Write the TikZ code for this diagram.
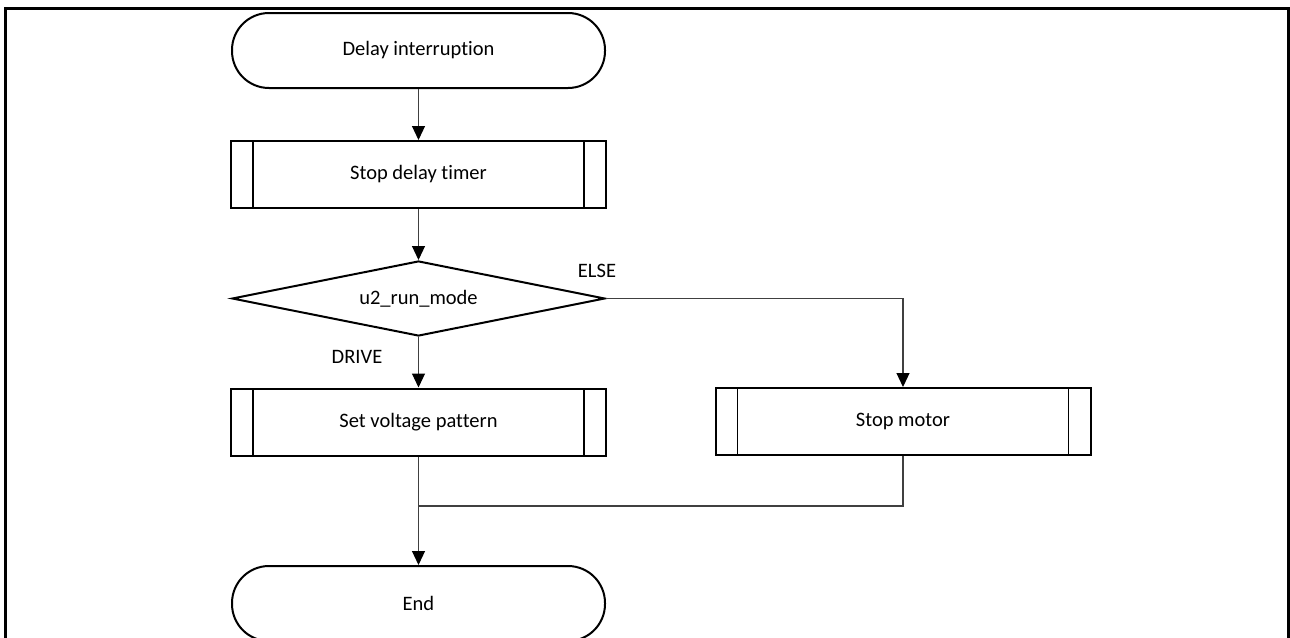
\documentclass[tikz,border=0pt]{standalone}
\usepackage{fontspec}
\setmainfont{Carlito}[Ligatures=NoCommon]
\usetikzlibrary{shapes.geometric,arrows.meta}

\begin{document}
\begin{tikzpicture}[x=1pt,y=-1pt,
        font=\fontsize{20.5}{24}\selectfont,
        terminal/.style={draw,line width=2pt,rounded corners=37pt,minimum width=373pt,minimum height=75pt,inner sep=0pt},
        subroutine/.style={draw,line width=2pt,minimum width=375pt,minimum height=67pt,inner sep=0pt,
            path picture={
                \draw[line width=1.5pt] ([xshift=22pt]path picture bounding box.north west) -- ([xshift=22pt]path picture bounding box.south west);
                \draw[line width=1.5pt] ([xshift=-22pt]path picture bounding box.north east) -- ([xshift=-22pt]path picture bounding box.south east);}},
        decision/.style={draw,diamond,aspect=5,line width=2pt,minimum width=373pt,minimum height=75pt,inner sep=0pt},
        flow/.style={draw=black!75,line width=1.2pt},
        arrow/.style={flow,-{Triangle[width=13pt,length=14pt,color=black]}}]
        \useasboundingbox (0,0) rectangle (1290,637);
        \clip (0,0) rectangle (1290,637);
        \draw[line width=3pt] (5,650) -- (5,8) -- (1288,8) -- (1288,650);

        \node[terminal] (start) at (418.5,50.5) {Delay interruption};
        \node[subroutine] (stoptimer) at (418.5,174.5) {Stop delay timer};
        \node[decision] (runmode) at (418.5,298.5) {u2\_run\_mode};
        \node[subroutine] (setpattern) at (418.5,422) {Set voltage pattern};
        \node[subroutine] (stopmotor) at (903,421.5) {Stop motor};
        \node[terminal] (finish) at (418.5,603.5) {End};
        \coordinate (merge) at (418.5,506);

        \node (elselbl) at (597,271) {ELSE};
        \node (drivelbl) at (357,357) {DRIVE};

        \draw[arrow] (start) -- (stoptimer);
        \draw[arrow] (stoptimer) -- (runmode);
        \draw[arrow] (runmode) -- (setpattern);
        \draw[arrow] (runmode.east) -| (stopmotor.north);
        % join both branches
        \draw[flow] (setpattern) -- (merge);
        \draw[flow] (stopmotor.south) |- (merge);
        \draw[arrow] (merge) -- (finish);
    \end{tikzpicture}
\end{document}
